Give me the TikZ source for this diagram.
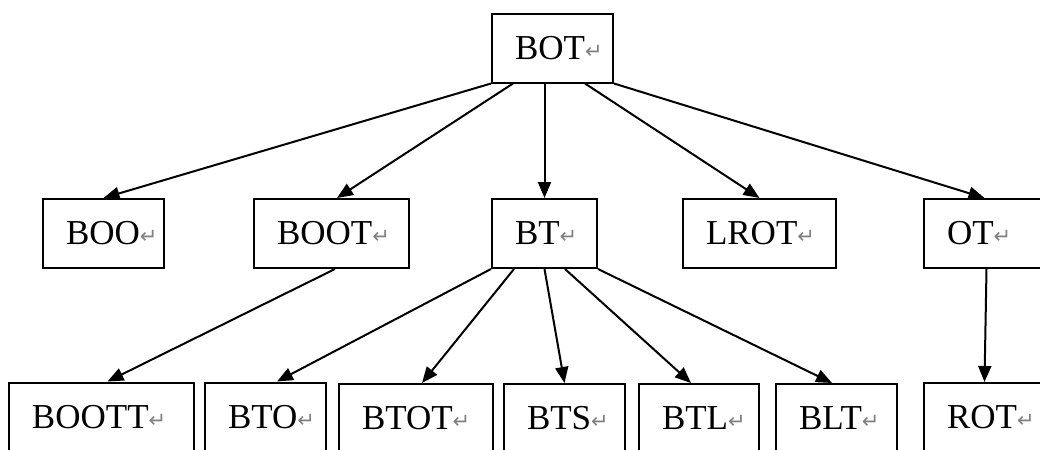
\documentclass[tikz,border=0pt]{standalone}
\usepackage{fontspec}
\setmainfont{Liberation Serif}
\newfontfamily\symfont{DejaVu Sans}
\usetikzlibrary{arrows.meta}
\newcommand{\ret}{{\symfont\fontsize{10.5pt}{10pt}\selectfont\color{black!50}\raisebox{0.5pt}{↵}}}
\begin{document}
\begin{tikzpicture}[x=0.5pt,y=-0.5pt,
    wbox/.style={draw, line width=1pt, rectangle, align=left, text width=#1,
        inner xsep=11.5pt, inner ysep=0pt, minimum height=34.5pt,
        font=\fontsize{17.5pt}{20pt}\selectfont},
    link/.style={line width=1pt, -{Triangle[length=8pt,width=6.5pt]}}]
                \useasboundingbox (0,0) rectangle (1040,450);
                \clip (0,0) rectangle (1040,450);
                \node[wbox=37.5pt] (BOT) at (552.5,48) {BOT\ret};
                \foreach \n/\x/\w in {BOO/103.5/37.5,BOOT/331.5/54.5,BT/544.5/29.5,LROT/759.5/53.5,OT/984.5/37.5}
                {
                    \node[wbox=\w pt] (\n) at (\x,233.5) {\n\ret};
                }
                \foreach \n/\x/\y/\w in {BOOTT/101.5/417/69.5,BTO/265.5/417/37.5,BTOT/416/418.5/54,BTS/564.5/418.5/37.5,BTL/699/418.5/37,BLT/836.5/418.5/37.5,ROT/984.5/417.5/37.5}
                {
                    \node[wbox=\w pt] (\n) at (\x,\y) {\n\ret};
                }
                \draw[link] (BOT.south west) -- (BOO.north);
                \draw[link] ([xshift=-19.75pt]BOT.south) -- ([xshift=2.75pt]BOOT.north);
                \draw[link] (BT.north |- BOT.south) -- (BT.north);
                \draw[link] ([xshift=16.25pt]BOT.south) -- (LROT.north);
                \draw[link] (BOT.south east) -- (OT.north);
                \draw[link] ([xshift=1.75pt]BOOT.south) -- ([xshift=3pt]BOOTT.north);
                \draw[link] (BT.south west) -- ([xshift=5.75pt]BTO.north);
                \draw[link] ([xshift=-15.25pt]BT.south) -- ([xshift=3pt]BTOT.north);
                \draw[link] (BT.south) -- (BTS.north);
                \draw[link] ([xshift=10.25pt]BT.south) -- ([xshift=-4pt]BTL.north);
                \draw[link] (BT.south east) -- ([xshift=-2.25pt]BLT.north);
                \draw[link] ([xshift=1pt]OT.south) -- (ROT.north);
                
            \end{tikzpicture}
\end{document}
